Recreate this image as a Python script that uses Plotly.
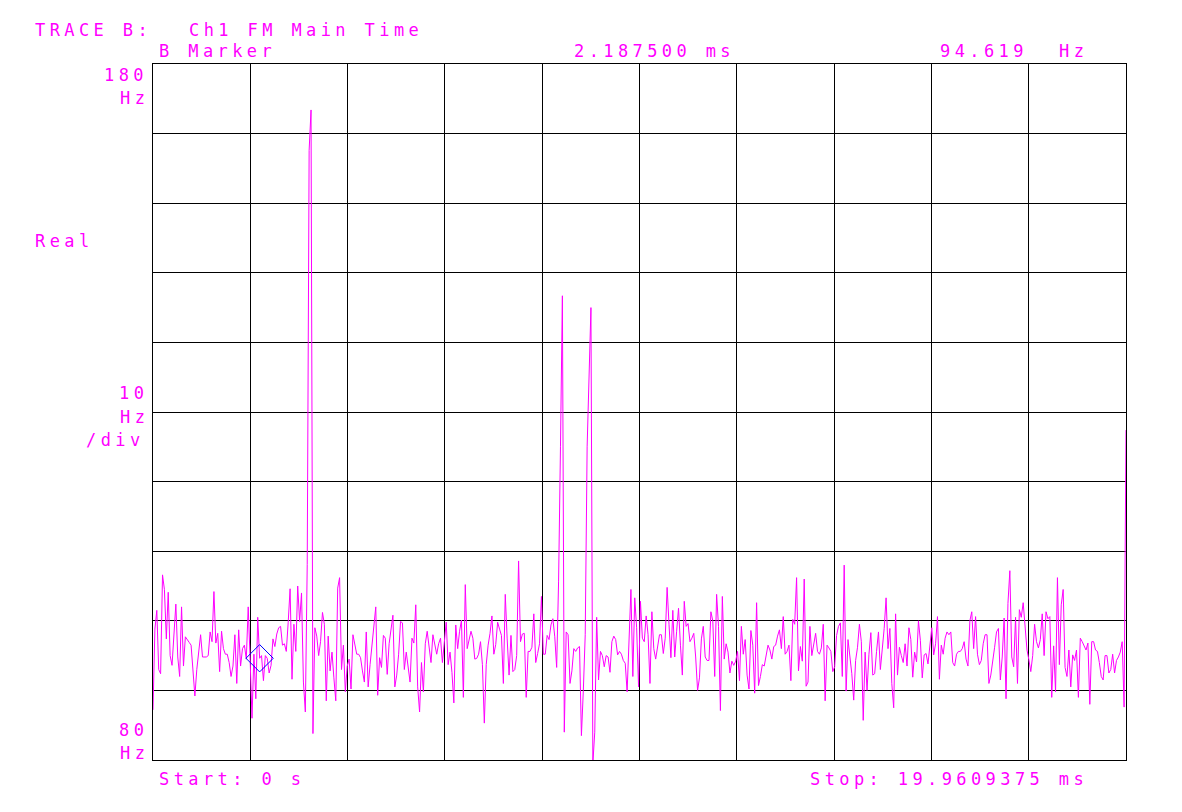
import plotly.graph_objects as go

# ---------------- data ----------------
dt_ms = 0.0390625          # sample spacing (ms)
stop_ms = 19.9609375       # x-axis stop
y_min_hz, y_max_hz = 80, 180
y_div_hz = 10

fm_hz = [
    87.2, 98.8, 101.5, 93.0, 92.4, 106.6, 104.5, 97.4, 104.1, 95.0,
    93.6, 97.3, 102.4, 94.8, 92.0, 102.0, 93.5, 97.7, 97.2, 96.9,
    96.5, 92.5, 89.2, 93.0, 95.4, 98.0, 94.8, 94.8, 94.8, 95.0,
    98.4, 97.0, 104.2, 96.8, 98.2, 92.7, 98.5, 96.0, 95.2, 95.2,
    94.0, 92.0, 93.5, 98.0, 91.0, 98.7, 93.5, 96.0, 96.5, 94.5,
    102.0, 94.5, 86.0, 95.2, 88.8, 100.5, 94.619, 95.0, 91.4, 95.0,
    94.6, 92.5, 93.6, 97.4, 96.3, 98.1, 99.0, 99.2, 96.5, 96.7,
    95.6, 99.8, 104.6, 91.6, 99.5, 95.6, 105.0, 99.9, 104.0, 91.2,
    86.9, 108.1, 167.6, 173.4, 83.8, 99.0, 97.8, 95.0, 97.0, 101.2,
    99.5, 88.5, 97.8, 92.8, 95.5, 91.8, 88.5, 104.7, 106.2, 93.0,
    96.5, 89.8, 93.5, 94.5, 90.2, 98.0, 96.3, 95.2, 95.2, 94.7,
    92.8, 91.2, 98.4, 90.5, 93.7, 96.7, 99.5, 102.0, 89.3, 94.7,
    93.3, 97.9, 97.5, 92.3, 96.7, 99.2, 100.8, 90.5, 92.2, 95.2,
    99.9, 99.7, 93.0, 95.5, 93.4, 91.2, 97.5, 96.8, 102.3, 90.5,
    86.9, 94.0, 89.8, 96.7, 98.5, 96.5, 94.0, 98.0, 96.7, 95.2,
    96.7, 97.5, 94.0, 97.0, 99.8, 93.7, 95.5, 92.6, 88.2, 99.4,
    96.0, 98.5, 100.1, 89.0, 105.2, 96.0, 97.3, 98.5, 97.5, 94.5,
    94.6, 95.2, 97.0, 93.7, 85.3, 93.7, 96.5, 98.2, 100.7, 95.2,
    96.6, 99.8, 98.8, 97.9, 91.0, 103.8, 97.4, 92.2, 97.9, 92.7,
    93.0, 95.0, 108.6, 97.0, 98.1, 98.2, 89.0, 95.6, 95.6, 96.2,
    101.0, 94.0, 95.3, 96.7, 103.5, 95.2, 95.2, 97.9, 97.3, 99.4,
    100.3, 97.7, 93.3, 105.7, 125.0, 146.7, 84.0, 98.4, 98.0, 91.0,
    92.8, 96.0, 95.6, 96.1, 96.3, 83.5, 90.0, 98.0, 125.0, 135.0,
    145.0, 79.5, 84.0, 100.5, 91.5, 95.6, 95.0, 93.4, 95.0, 94.8,
    92.6, 97.0, 97.8, 97.3, 95.1, 95.6, 95.2, 94.3, 93.9, 89.8,
    97.0, 104.5, 92.0, 103.3, 99.0, 90.5, 102.8, 97.5, 97.0, 100.7,
    98.0, 91.0, 101.3, 96.0, 94.5, 96.0, 98.0, 98.0, 95.3, 97.5,
    104.8, 99.5, 94.7, 101.5, 94.8, 98.5, 101.8, 96.5, 92.2, 102.8,
    99.2, 99.6, 97.0, 97.5, 98.2, 94.8, 90.0, 91.8, 97.4, 99.2,
    94.8, 94.3, 94.3, 101.3, 100.0, 92.0, 103.8, 99.2, 87.1, 103.5,
    94.5, 96.7, 95.5, 92.5, 94.2, 93.6, 94.2, 95.6, 91.4, 99.2,
    95.2, 97.3, 92.2, 90.2, 98.6, 96.5, 89.6, 102.6, 90.7, 92.0,
    93.7, 93.5, 95.2, 96.5, 95.8, 94.5, 96.3, 96.5, 97.8, 98.7,
    96.0, 100.6, 95.2, 95.6, 96.5, 91.4, 100.2, 99.5, 106.2, 92.8,
    96.3, 94.2, 106.0, 90.6, 91.2, 99.2, 95.0, 97.0, 98.2, 95.6,
    95.2, 96.1, 99.5, 88.5, 96.5, 96.1, 95.6, 92.7, 93.4, 97.9,
    99.2, 99.7, 92.0, 108.0, 89.9, 97.3, 95.0, 92.4, 88.6, 94.3,
    96.2, 99.5, 97.0, 85.7, 95.5, 90.0, 95.2, 98.3, 92.2, 92.4,
    95.6, 98.4, 93.0, 96.0, 98.9, 103.3, 96.0, 98.9, 91.0, 87.5,
    101.0, 92.2, 96.2, 95.0, 94.0, 96.7, 93.5, 99.0, 97.3, 91.9,
    95.5, 94.1, 100.0, 97.2, 91.8, 95.1, 95.3, 93.8, 96.7, 99.0,
    95.1, 96.7, 100.6, 91.6, 96.5, 95.2, 97.5, 98.4, 98.0, 98.4,
    94.0, 93.5, 95.2, 95.6, 95.6, 96.0, 97.0, 94.5, 93.5, 100.0,
    101.3, 96.0, 100.6, 95.2, 93.7, 94.3, 96.7, 98.0, 98.0, 91.0,
    92.2, 94.0, 96.2, 98.4, 98.9, 91.5, 94.8, 100.4, 88.8, 102.5,
    107.2, 94.8, 93.4, 100.5, 91.0, 101.6, 100.5, 102.6, 99.1, 95.8,
    94.4, 92.7, 95.0, 99.5, 97.0, 96.1, 97.3, 101.0, 95.0, 101.3,
    100.3, 100.6, 89.0, 96.4, 89.8, 106.2, 93.7, 102.3, 104.5, 93.3,
    92.0, 95.8, 90.5, 95.1, 94.3, 95.8, 89.0, 97.5, 97.0, 96.5,
    95.8, 96.8, 88.0, 97.0, 97.0, 95.8, 95.6, 94.0, 92.0, 91.5,
    95.0, 95.0, 92.5, 93.0, 95.2, 92.5, 94.3, 94.8, 95.5, 97.0,
    87.6, 127.4,
]

marker_ms = 2.1875
marker_hz = 94.619

title_label = "TRACE B:"
title_text = "Ch1 FM Main Time"
marker_label = "B Marker"
marker_time_text = "2.187500 ms"
marker_value_text = "94.619"
marker_unit_text = "Hz"
top_label = "180"
mid_label = "10"
bottom_label = "80"
unit_label = "Hz"
div_label = "/div"
format_label = "Real"
start_label = "Start: 0 s"
stop_label = "Stop: 19.9609375 ms"

# ---------------- figure ----------------
times_ms = [i * dt_ms for i in range(len(fm_hz))]

# page body has an 8px margin; figure is sized/offset to compensate
OFF = 8
W, H = 1182 - OFF, 812 - OFF
L, T = 153 - OFF, 64 - OFF
PW, PH = 973, 696
R, B = W - L - PW, H - T - PH
MAG = "#FF00FF"

fig = go.Figure()
fig.add_trace(go.Scatter(
    x=times_ms, y=fm_hz, mode="lines",
    line=dict(color=MAG, width=1),
    showlegend=False, hoverinfo="skip",
))
fig.add_trace(go.Scatter(
    x=[marker_ms], y=[marker_hz], mode="markers",
    marker=dict(symbol="diamond-open", size=21, color="#0000ff",
                line=dict(width=1, color="#0000ff")),
    showlegend=False,
))


def ann(text, xpx, ypx, size=17):
    # xpx, ypx are page pixel positions (left edge, vertical centre)
    return dict(
        text='<span style="letter-spacing:4.4px">' + text + '</span>',
        xref="paper", yref="paper",
        x=(xpx - OFF - L) / PW, y=1 - (ypx - OFF - T) / PH,
        xanchor="left", yanchor="middle", showarrow=False,
        font=dict(family="DejaVu Sans Mono", size=size, color=MAG),
    )


annotations = [
    ann(title_label, 33, 30),
    ann(title_text, 187, 30),
    ann(marker_label, 157, 51),
    ann(marker_time_text, 572, 51),
    ann(marker_value_text, 938, 51),
    ann(marker_unit_text, 1057, 51),
    ann(top_label, 102, 75),
    ann(unit_label, 118, 98),
    ann(format_label, 33, 241),
    ann(mid_label, 117, 393),
    ann(unit_label, 118, 417),
    ann(div_label, 84, 440),
    ann(bottom_label, 117, 730),
    ann(unit_label, 118, 753),
    ann(start_label, 157, 779),
    ann(stop_label, 808, 779),
]

xt = [stop_ms * k / 10 for k in range(11)]
yt = list(range(y_min_hz, y_max_hz + 1, y_div_hz))

fig.update_layout(
    width=W, height=H,
    margin=dict(l=L, r=R, t=T, b=B, pad=0),
    paper_bgcolor="white", plot_bgcolor="white",
    annotations=annotations,
    xaxis=dict(range=[0, stop_ms], tickvals=xt, showticklabels=False,
               ticks="", showgrid=True, gridcolor="black", gridwidth=1,
               zeroline=False, showline=True, mirror=True,
               linecolor="black", linewidth=1, fixedrange=True),
    yaxis=dict(range=[y_min_hz, y_max_hz], tickvals=yt, showticklabels=False,
               ticks="", showgrid=True, gridcolor="black", gridwidth=1,
               zeroline=False, showline=True, mirror=True,
               linecolor="black", linewidth=1, fixedrange=True),
)

fig.write_html("out.html")
